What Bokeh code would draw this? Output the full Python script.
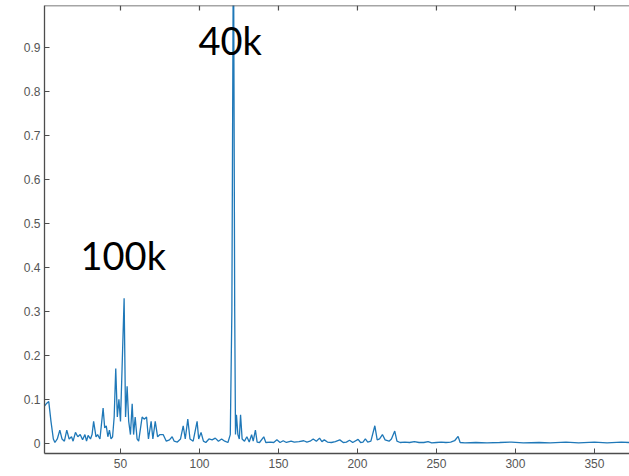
from bokeh.plotting import figure
from bokeh.models import Label, Range1d, FixedTicker, Span
from bokeh.embed import file_html
from bokeh.resources import INLINE

# ---- data ----
freq = [2, 3, 4.6, 6, 7.5, 8.5, 10, 11.6, 13, 14.5, 16, 17.5, 19, 20, 21.5, 23, 24.5, 26,
        27.5, 28.5, 29.5, 31, 32, 33, 34.5, 35.5, 37, 39, 40, 41, 42, 43, 44, 45, 46, 47,
        48, 49, 50, 51, 52.3, 53.2, 54.2, 55.2, 56.3, 57.4, 58.3, 59.3, 60.5, 61.5, 62.5,
        63.7, 65, 66.5, 67.7, 69.4, 70.5, 72, 73.5, 75, 77, 79, 81, 82.7, 84, 86, 88, 89.7,
        91, 92.6, 94, 96, 98.5, 99.5, 101, 102.5, 104, 106, 108, 110, 112, 114, 116, 118,
        119.5, 120.5, 121.5, 122.3, 122.8, 123.4, 124.3, 125.2, 126, 127, 128.5, 130, 131.5,
        133, 134, 135.4, 136.5, 138, 140.7, 142, 145, 147, 149, 151, 153, 155, 158, 160,
        163, 166, 168, 170, 172, 174, 176, 177.5, 179, 181, 183.5, 186, 188.8, 191, 193,
        195, 197, 200.4, 202, 203.5, 205, 206.5, 208.5, 211, 212.5, 214, 215.8, 217.5, 220,
        221.5, 223.6, 225, 227, 230, 233, 236, 239, 242, 244.7, 247, 250, 253, 256, 259,
        261.5, 263.7, 265, 268, 275, 282, 290, 297.5, 305, 315, 322, 332, 340, 350, 358,
        367, 372]
amplitude = [0.085, 0.09, 0.095, 0.05, 0.01, 0.002, 0.01, 0.03, 0.01, 0.005, 0.03, 0.01,
             0.015, 0.005, 0.025, 0.015, 0.02, 0.008, 0.02, 0.005, 0.018, 0.01, 0.02, 0.05,
             0.015, 0.02, 0.01, 0.08, 0.035, 0.04, 0.015, 0.03, 0.01, 0.015, 0.06, 0.17,
             0.06, 0.1, 0.05, 0.17, 0.33, 0.06, 0.13, 0.05, 0.02, 0.09, 0.02, 0.06, 0.01,
             0.005, 0.03, 0.06, 0.055, 0.06, 0.01, 0.05, 0.01, 0.05, 0.015, 0.02, 0.02,
             0.005, 0.008, 0.015, 0.005, 0.003, 0.01, 0.04, 0.01, 0.055, 0.01, 0.005, 0.05,
             0.01, 0.025, 0.005, 0.002, 0.01, 0.008, 0.012, 0.005, 0.01, 0.005, 0.002,
             0.02, 0.3, 1.2, 0.3, 0.02, 0.065, 0.02, 0.01, 0.065, 0.01, 0.005, 0.015, 0.003,
             0.02, 0.005, 0.03, 0.003, 0.002, 0.015, 0.002, 0.003, 0.002, 0.008, 0.002,
             0.006, 0.002, 0.005, 0.003, 0.004, 0.006, 0.003, 0.005, 0.01, 0.005, 0.012,
             0.004, 0.008, 0.003, 0.002, 0.004, 0.008, 0.002, 0.003, 0.007, 0.002, 0.009,
             0.002, 0.003, 0.01, 0.003, 0.005, 0.04, 0.008, 0.01, 0.02, 0.008, 0.005, 0.01,
             0.028, 0.005, 0.002, 0.003, 0.002, 0.004, 0.002, 0.002, 0.004, 0.001, 0.002,
             0.003, 0.002, 0.003, 0.006, 0.016, 0.002, 0.001, 0.002, 0.001, 0.002, 0.003,
             0.001, 0.002, 0.001, 0.003, 0.001, 0.003, 0.001, 0.003, 0.002]

x_ticks = [50, 100, 150, 200, 250, 300, 350]
x_tick_labels = ["50", "100", "150", "200", "250", "300", "350"]
y_ticks = [0, 0.1, 0.2, 0.3, 0.4, 0.5, 0.6, 0.7, 0.8, 0.9]
y_tick_labels = ["0", "0.1", "0.2", "0.3", "0.4", "0.5", "0.6", "0.7", "0.8", "0.9"]

annotations = ["40k", "100k"]
annotation_x = [99.4, 24.7]
annotation_y = [0.916, 0.427]

X_START, X_END = 1.9, 372.2
Y_START, Y_END = -0.023, 0.995

# ---- figure ----
p = figure(width=629, height=476, output_backend="svg", toolbar_location=None,
           x_range=Range1d(X_START, X_END), y_range=Range1d(Y_START, Y_END),
           min_border_left=44, min_border_right=0, min_border_top=5, min_border_bottom=23,
           background_fill_color="white", border_fill_color="white")
p.outline_line_color = None
p.xgrid.visible = False
p.ygrid.visible = False

p.line(freq, amplitude, line_color="#1f78b8", line_width=1.3)

axis_color = "#4d4d4d"
label_color = "#555555"
font = "Liberation Sans"

for ax in p.xaxis:
    ax.ticker = FixedTicker(ticks=x_ticks)
    ax.major_label_overrides = dict(zip(x_ticks, x_tick_labels))
for ax in p.yaxis:
    ax.ticker = FixedTicker(ticks=y_ticks)
    ax.major_label_overrides = dict(zip(y_ticks, y_tick_labels))

for ax in list(p.xaxis) + list(p.yaxis):
    ax.axis_line_color = axis_color
    ax.axis_line_width = 1.3
    ax.major_tick_line_color = axis_color
    ax.major_tick_in = 5
    ax.major_tick_out = 0
    ax.minor_tick_line_color = None
    ax.major_label_text_color = label_color
    ax.major_label_text_font = font
    ax.major_label_text_font_size = "12px"
p.yaxis.major_label_standoff = 4
p.xaxis.major_label_standoff = 5

# top border with inward ticks
p.add_layout(Span(location=Y_END, dimension="width", line_color=axis_color, line_width=1.5))
tick_len = 5.0 / 440.0
p.segment(x0=x_ticks, y0=[Y_END] * len(x_ticks), x1=x_ticks,
          y1=[Y_END - tick_len] * len(x_ticks), line_color=axis_color, line_width=1.2)

for txt, ax_, ay_ in zip(annotations, annotation_x, annotation_y):
    p.add_layout(Label(x=ax_, y=ay_, text=txt, text_font="Lato", text_font_size="38px",
                       text_color="black", text_baseline="alphabetic", text_align="left"))

open("out.html", "w").write(file_html(p, INLINE))
